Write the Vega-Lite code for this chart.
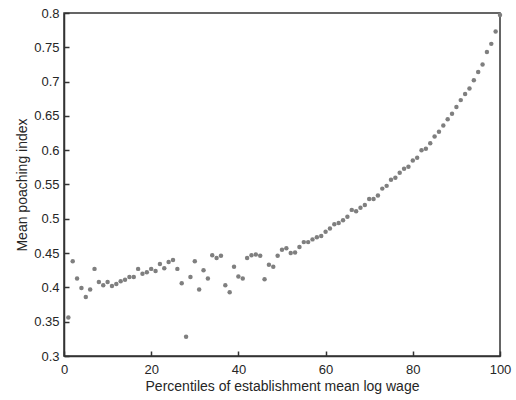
{
  "$schema": "https://vega.github.io/schema/vega-lite/v6.json",
  "width": 436,
  "height": 343,
  "padding": {"left": 64, "top": 13, "right": 16, "bottom": 44},
  "autosize": {"type": "none"},
  "config": {
    "view": {"stroke": "#333333", "strokeWidth": 1.5},
    "axis": {
      "domainColor": "#333333",
      "domainWidth": 1.5,
      "tickColor": "#333333",
      "tickWidth": 1.5,
      "labelColor": "#262626",
      "titleColor": "#262626",
      "labelFont": "Liberation Sans",
      "titleFont": "Liberation Sans",
      "labelFontSize": 13,
      "titleFontSize": 14,
      "titleFontWeight": "normal",
      "labelFlush": false,
      "grid": false
    }
  },
  "data": {
    "values": [
      {"p": 1, "v": 0.356}, {"p": 2, "v": 0.438}, {"p": 3, "v": 0.413}, {"p": 4, "v": 0.399}, {"p": 5, "v": 0.386},
      {"p": 6, "v": 0.397}, {"p": 7, "v": 0.427}, {"p": 8, "v": 0.408}, {"p": 9, "v": 0.403}, {"p": 10, "v": 0.408},
      {"p": 11, "v": 0.402}, {"p": 12, "v": 0.405}, {"p": 13, "v": 0.409}, {"p": 14, "v": 0.411}, {"p": 15, "v": 0.415},
      {"p": 16, "v": 0.415}, {"p": 17, "v": 0.427}, {"p": 18, "v": 0.420}, {"p": 19, "v": 0.422}, {"p": 20, "v": 0.427},
      {"p": 21, "v": 0.424}, {"p": 22, "v": 0.434}, {"p": 23, "v": 0.428}, {"p": 24, "v": 0.437}, {"p": 25, "v": 0.440},
      {"p": 26, "v": 0.427}, {"p": 27, "v": 0.406}, {"p": 28, "v": 0.328}, {"p": 29, "v": 0.415}, {"p": 30, "v": 0.438},
      {"p": 31, "v": 0.397}, {"p": 32, "v": 0.425}, {"p": 33, "v": 0.413}, {"p": 34, "v": 0.447}, {"p": 35, "v": 0.443},
      {"p": 36, "v": 0.446}, {"p": 37, "v": 0.403}, {"p": 38, "v": 0.393}, {"p": 39, "v": 0.430}, {"p": 40, "v": 0.416},
      {"p": 41, "v": 0.413}, {"p": 42, "v": 0.443}, {"p": 43, "v": 0.447}, {"p": 44, "v": 0.448}, {"p": 45, "v": 0.446},
      {"p": 46, "v": 0.412}, {"p": 47, "v": 0.433}, {"p": 48, "v": 0.430}, {"p": 49, "v": 0.446}, {"p": 50, "v": 0.455},
      {"p": 51, "v": 0.457}, {"p": 52, "v": 0.450}, {"p": 53, "v": 0.451}, {"p": 54, "v": 0.459}, {"p": 55, "v": 0.466},
      {"p": 56, "v": 0.466}, {"p": 57, "v": 0.470}, {"p": 58, "v": 0.473}, {"p": 59, "v": 0.475}, {"p": 60, "v": 0.481},
      {"p": 61, "v": 0.486}, {"p": 62, "v": 0.492}, {"p": 63, "v": 0.494}, {"p": 64, "v": 0.498}, {"p": 65, "v": 0.503},
      {"p": 66, "v": 0.513}, {"p": 67, "v": 0.511}, {"p": 68, "v": 0.516}, {"p": 69, "v": 0.520}, {"p": 70, "v": 0.529},
      {"p": 71, "v": 0.529}, {"p": 72, "v": 0.534}, {"p": 73, "v": 0.544}, {"p": 74, "v": 0.548}, {"p": 75, "v": 0.557},
      {"p": 76, "v": 0.560}, {"p": 77, "v": 0.567}, {"p": 78, "v": 0.573}, {"p": 79, "v": 0.576}, {"p": 80, "v": 0.585},
      {"p": 81, "v": 0.589}, {"p": 82, "v": 0.600}, {"p": 83, "v": 0.602}, {"p": 84, "v": 0.610}, {"p": 85, "v": 0.620},
      {"p": 86, "v": 0.627}, {"p": 87, "v": 0.636}, {"p": 88, "v": 0.645}, {"p": 89, "v": 0.653}, {"p": 90, "v": 0.663},
      {"p": 91, "v": 0.673}, {"p": 92, "v": 0.682}, {"p": 93, "v": 0.690}, {"p": 94, "v": 0.702}, {"p": 95, "v": 0.714},
      {"p": 96, "v": 0.725}, {"p": 97, "v": 0.743}, {"p": 98, "v": 0.755}, {"p": 99, "v": 0.773}, {"p": 100, "v": 0.797}
    ]
  },
  "mark": {"type": "point", "filled": true, "size": 20, "color": "#7f7f7f", "opacity": 1},
  "encoding": {
    "x": {"field": "p", "type": "quantitative", "scale": {"domain": [0, 100], "nice": false, "zero": false},
          "axis": {"orient": "bottom", "title": "Percentiles of establishment mean log wage", "values": [0, 20, 40, 60, 80, 100], "tickSize": -5, "labelPadding": 12, "titlePadding": 3}},
    "y": {"field": "v", "type": "quantitative", "scale": {"domain": [0.3, 0.8], "nice": false, "zero": false},
          "axis": {"orient": "left", "title": "Mean poaching index", "values": [0.3, 0.35, 0.4, 0.45, 0.5, 0.55, 0.6, 0.65, 0.7, 0.75, 0.8], "format": ".2~f", "tickSize": -5, "labelPadding": 10, "titlePadding": 4}}
  }
}
